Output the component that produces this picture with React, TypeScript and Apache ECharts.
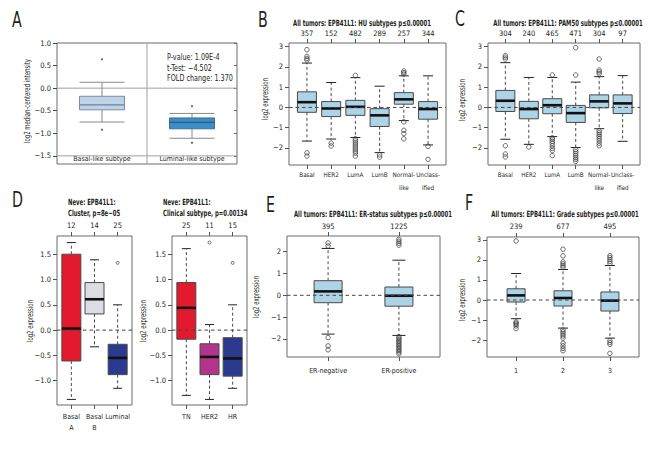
import React, { useEffect, useRef } from 'react';
import * as echarts from 'echarts';

const FONT = '"DejaVu Sans Condensed", "DejaVu Sans", sans-serif';

// ---------- Panel A (Oncomine) ----------
const aCategories = ['Basal-like subtype', 'Luminal-like subtype'];
// [x, lowWhisker, Q1, median, Q3, highWhisker]
const aBoxes = [
  [1, -0.75, -0.48, -0.37, -0.18, 0.13],
  [2, -1.11, -0.90, -0.76, -0.66, -0.56],
];
const aOutliers = [[1, 0.64], [1, -0.92], [2, -0.40], [2, -1.21]];
const aTicks = [1.0, 0.5, 0.0, -0.5, -1.0, -1.5];
const aStats = ['P-value: 1.09E-4', 't-Test: −4.502', 'FOLD change: 1.370'];

// ---------- Panel B (HU subtypes) ----------
const bCategories = ['Basal', 'HER2', 'LumA', 'LumB', 'Normal-\nlike', 'Unclass-\nified'];
const bCounts = ['357', '152', '482', '289', '257', '344'];
const bBoxes = [
  [1, -1.66, -0.24, 0.26, 0.77, 2.19],
  [2, -1.56, -0.45, -0.05, 0.29, 1.23],
  [3, -1.48, -0.39, 0.03, 0.35, 1.47],
  [4, -2.23, -0.94, -0.39, -0.06, 1.05],
  [5, -0.65, 0.16, 0.40, 0.73, 1.56],
  [6, -1.85, -0.58, -0.08, 0.29, 1.56],
];
const bOutliers = [
  [1, 2.85], [1, 2.52], [1, 2.42], [1, 2.34], [1, -2.24], [1, -2.40],
  [2, -1.76], [2, -1.90],
  [3, 1.58], [3, -1.55], [3, -1.65], [3, -1.75], [3, -1.85], [3, -1.95], [3, -2.05], [3, -2.15], [3, -2.25], [3, -2.40],
  [4, -2.34], [4, -2.45],
  [5, 1.80], [5, 1.72], [5, 1.65], [5, -0.71], [5, -1.13], [5, -1.29], [5, -1.55],
  [6, -1.92], [6, -2.56],
];

// ---------- Panel C (PAM50 subtypes) ----------
const cCategories = ['Basal', 'HER2', 'LumA', 'LumB', 'Normal-\nlike', 'Unclass-\nified'];
const cCounts = ['304', '240', '465', '471', '304', '97'];
const cBoxes = [
  [1, -1.57, -0.20, 0.33, 0.84, 2.21],
  [2, -1.82, -0.56, -0.08, 0.30, 1.48],
  [3, -1.44, -0.31, 0.11, 0.43, 1.48],
  [4, -1.98, -0.74, -0.28, 0.10, 1.25],
  [5, -1.05, -0.02, 0.30, 0.62, 1.52],
  [6, -1.67, -0.30, 0.20, 0.62, 1.57],
];
const cOutliers = [
  [1, 2.56], [1, 2.48], [1, 2.39], [1, -1.89], [1, -2.30], [1, -2.44],
  [2, -1.95],
  [3, 1.60], [3, -1.50], [3, -1.57], [3, -1.67], [3, -1.77], [3, -1.89], [3, -2.02], [3, -2.13], [3, -2.38],
  [4, 2.95], [4, 1.60], [4, -2.08], [4, -2.18], [4, -2.28], [4, -2.38], [4, -2.48], [4, -2.56], [4, -2.66],
  [5, 2.39], [5, 1.84], [5, 1.75], [5, 1.66], [5, -1.15], [5, -1.25], [5, -1.34], [5, -1.44], [5, -1.54], [5, -1.64], [5, -1.77], [5, -1.89],
];

// ---------- Panel D (Neve) ----------
const dClusterCategories = ['Basal\nA', 'Basal\nB', 'Luminal'];
const dClusterCounts = ['12', '14', '25'];
const dClusterBoxes = [
  [1, -1.37, -0.61, 0.03, 1.50, 1.73],
  [2, -0.33, 0.32, 0.61, 0.94, 1.39],
  [3, -1.15, -0.88, -0.55, -0.28, 0.50],
];
const dClusterOutliers = [[3, 1.33]];
const dClinicalCategories = ['TN', 'HER2', 'HR'];
const dClinicalCounts = ['25', '11', '15'];
const dClinicalBoxes = [
  [1, -1.29, -0.18, 0.44, 0.94, 1.61],
  [2, -1.37, -0.88, -0.53, -0.27, 0.11],
  [3, -1.15, -0.91, -0.56, -0.15, 0.50],
];
const dClinicalOutliers = [[2, 1.73], [3, 1.33]];
const dTicks = [-1.0, -0.5, 0.0, 0.5, 1.0, 1.5];

// ---------- Panel E (ER status) ----------
const eCategories = ['ER-negative', 'ER-positive'];
const eCounts = ['395', '1225'];
const eBoxes = [
  [1, -1.78, -0.34, 0.18, 0.67, 2.15],
  [2, -1.84, -0.50, -0.02, 0.38, 1.61],
];
const eOutliers = [
  [1, 2.40], [1, 2.26], [1, -1.94], [1, -2.32], [1, -2.50],
  [2, 2.57], [2, 2.48], [2, 2.39], [2, 2.30],
  [2, -1.90], [2, -1.97], [2, -2.04], [2, -2.11], [2, -2.18], [2, -2.25], [2, -2.32], [2, -2.39], [2, -2.46], [2, -2.53], [2, -2.60], [2, -2.68],
];
const eTicks = [-2, -1, 0, 1, 2];

// ---------- Panel F (Grade) ----------
const fCategories = ['1', '2', '3'];
const fCounts = ['239', '677', '495'];
const fBoxes = [
  [1, -0.93, -0.10, 0.23, 0.56, 1.32],
  [2, -1.40, -0.30, 0.10, 0.46, 1.52],
  [3, -1.90, -0.55, -0.03, 0.40, 1.72],
];
const fOutliers = [
  [1, 2.94], [1, -1.09], [1, -1.15], [1, -1.21], [1, -1.29], [1, -1.42],
  [2, 2.53], [2, 2.20], [2, 1.90], [2, 1.80], [2, 1.70], [2, 1.62],
  [2, -1.49], [2, -1.59], [2, -1.69], [2, -1.79], [2, -1.90], [2, -2.15], [2, -2.28], [2, -2.41], [2, -2.53],
  [3, 2.21], [3, 2.12], [3, 2.02], [3, 1.92], [3, 1.82], [3, -2.02], [3, -2.12], [3, -2.21], [3, -2.66],
];
const bcfTicks = [-2, -1, 0, 1, 2, 3];

const fmtInt = (v: number) => (v < 0 ? '−' + Math.abs(v) : String(v));
const fmt1 = (v: number) => (v < -1e-9 ? '−' + Math.abs(v).toFixed(1) : Math.abs(v).toFixed(1));

type BoxCfg = {
  boxW: number; capW: number; fills: string[]; borders: string[]; whisker: string;
  cap: string; dashed: boolean; medians: string[]; medianW: number;
};

function makeBoxRenderer(cfg: BoxCfg) {
  return (params: any, api: any) => {
    const i = params.dataIndex;
    const x = api.value(0);
    const pts = [1, 2, 3, 4, 5].map((k) => api.coord([x, api.value(k)]));
    const cx = pts[0][0];
    const [lo, q1, md, q3, hi] = pts.map((p: number[]) => p[1]);
    const hb = cfg.boxW / 2;
    const hc = cfg.capW / 2;
    const wStyle: any = { stroke: cfg.whisker, lineWidth: 1 };
    if (cfg.dashed) wStyle.lineDash = [3, 2.5];
    return {
      type: 'group',
      children: [
        { type: 'line', shape: { x1: cx, y1: q3, x2: cx, y2: hi }, style: wStyle },
        { type: 'line', shape: { x1: cx, y1: q1, x2: cx, y2: lo }, style: wStyle },
        { type: 'line', shape: { x1: cx - hc, y1: hi, x2: cx + hc, y2: hi }, style: { stroke: cfg.cap, lineWidth: 1 } },
        { type: 'line', shape: { x1: cx - hc, y1: lo, x2: cx + hc, y2: lo }, style: { stroke: cfg.cap, lineWidth: 1 } },
        {
          type: 'rect',
          shape: { x: cx - hb, y: q3, width: cfg.boxW, height: q1 - q3 },
          style: { fill: cfg.fills[i], stroke: cfg.borders[i], lineWidth: 1 },
        },
        { type: 'line', shape: { x1: cx - hb, y1: md, x2: cx + hb, y2: md }, style: { stroke: cfg.medians[i], lineWidth: cfg.medianW } },
      ],
    };
  };
}

type RPanel = {
  grid: { left: number; top: number; width: number; height: number };
  yMin: number; yMax: number; yTicks: number[]; yFmt: (v: number) => string;
  cats: string[]; counts: string[]; boxes: number[][]; outliers: number[][];
  fills: string[]; boxW: number; capW: number; symbolSize: number;
  labelLineHeight: number; labelSize: number; labelMargin: number; countMargin: number;
};

const LIGHT_BLUE = '#add3e6';

const rPanels: RPanel[] = [
  {
    grid: { left: 289, top: 43, width: 157, height: 122 },
    yMin: -2.84, yMax: 3.18, yTicks: bcfTicks, yFmt: fmtInt,
    cats: bCategories, counts: bCounts, boxes: bBoxes, outliers: bOutliers,
    fills: bBoxes.map(() => LIGHT_BLUE), boxW: 19, capW: 10, symbolSize: 4.5,
    labelLineHeight: 13, labelSize: 6.3, labelMargin: 3, countMargin: 6,
  },
  {
    grid: { left: 488, top: 43, width: 152, height: 122 },
    yMin: -2.84, yMax: 3.18, yTicks: bcfTicks, yFmt: fmtInt,
    cats: cCategories, counts: cCounts, boxes: cBoxes, outliers: cOutliers,
    fills: cBoxes.map(() => LIGHT_BLUE), boxW: 19, capW: 10, symbolSize: 4.5,
    labelLineHeight: 13, labelSize: 6.2, labelMargin: 3, countMargin: 6,
  },
  {
    grid: { left: 57, top: 236, width: 75, height: 169 },
    yMin: -1.48, yMax: 1.86, yTicks: dTicks, yFmt: fmt1,
    cats: dClusterCategories, counts: dClusterCounts, boxes: dClusterBoxes, outliers: dClusterOutliers,
    fills: ['#e3192d', '#dcdce3', '#2b3a8f'], boxW: 19, capW: 9, symbolSize: 3,
    labelLineHeight: 10.5, labelSize: 7, labelMargin: 7, countMargin: 7,
  },
  {
    grid: { left: 172, top: 236, width: 75, height: 169 },
    yMin: -1.48, yMax: 1.86, yTicks: dTicks, yFmt: fmt1,
    cats: dClinicalCategories, counts: dClinicalCounts, boxes: dClinicalBoxes, outliers: dClinicalOutliers,
    fills: ['#e3192d', '#b3348b', '#2b3a8f'], boxW: 19, capW: 9, symbolSize: 3,
    labelLineHeight: 10.5, labelSize: 7, labelMargin: 7, countMargin: 7,
  },
  {
    grid: { left: 287, top: 236, width: 153, height: 121 },
    yMin: -2.83, yMax: 2.72, yTicks: eTicks, yFmt: fmtInt,
    cats: eCategories, counts: eCounts, boxes: eBoxes, outliers: eOutliers,
    fills: eBoxes.map(() => LIGHT_BLUE), boxW: 28, capW: 13, symbolSize: 4.5,
    labelLineHeight: 11, labelSize: 7, labelMargin: 8, countMargin: 6,
  },
  {
    grid: { left: 487, top: 237, width: 152, height: 120 },
    yMin: -2.84, yMax: 3.14, yTicks: bcfTicks, yFmt: fmtInt,
    cats: fCategories, counts: fCounts, boxes: fBoxes, outliers: fOutliers,
    fills: fBoxes.map(() => LIGHT_BLUE), boxW: 18, capW: 10, symbolSize: 4.5,
    labelLineHeight: 11, labelSize: 7, labelMargin: 8, countMargin: 7,
  },
];

const TEXT = '#231f20';
const AXIS = '#555';

function buildOption() {
  const grids: any[] = [];
  const xAxes: any[] = [];
  const yAxes: any[] = [];
  const series: any[] = [];
  const fs = 7.5;
  const noHide = { hideOverlap: false };

  // ---- Panel A ----
  grids.push({ left: 57, top: 43, width: 180, height: 121, show: true, borderColor: '#6d6d6d', borderWidth: 1, containLabel: false, outerBoundsMode: 'none' });
  const aX = xAxes.length;
  xAxes.push({
    gridIndex: 0, type: 'value', min: 0.5, max: 2.5, position: 'bottom',
    axisLine: { show: false }, splitLine: { show: false }, axisTick: { show: false },
    axisLabel: {
      inside: true, margin: 1.5, customValues: [1, 2], formatter: (v: number) => aCategories[Math.round(v) - 1],
      fontFamily: FONT, fontSize: 7, color: TEXT, verticalAlign: 'bottom', ...noHide,
    },
  });
  const aY = yAxes.length;
  yAxes.push({
    gridIndex: 0, type: 'value', min: -1.68, max: 1.0, position: 'left',
    axisLine: { show: false }, splitLine: { show: false },
    axisTick: { show: true, length: 4, customValues: aTicks, lineStyle: { color: '#444' } },
    axisLabel: { customValues: aTicks, formatter: fmt1, margin: 6, fontFamily: FONT, fontSize: fs, color: TEXT, ...noHide },
  });
  yAxes.push({
    gridIndex: 0, type: 'value', min: -1.68, max: 1.0, position: 'right',
    axisLine: { show: false }, splitLine: { show: false },
    axisTick: { show: true, inside: true, length: 3, customValues: aTicks, lineStyle: { color: '#666' } },
    axisLabel: { show: false },
  });
  series.push({
    type: 'line', xAxisIndex: aX, yAxisIndex: aY, data: [[0.5, 0], [2.5, 0]], symbol: 'none', silent: true,
    lineStyle: { color: '#a0a0a0', width: 1 }, z: 1,
  });
  series.push({
    type: 'line', xAxisIndex: aX, yAxisIndex: aY, data: [[0.5, -1.5], [2.5, -1.5]], symbol: 'none', silent: true,
    lineStyle: { color: '#a0a0a0', width: 1 }, z: 1,
  });
  series.push({
    type: 'line', xAxisIndex: aX, yAxisIndex: aY, data: [[1.5, -1.68], [1.5, 1.0]], symbol: 'none', silent: true,
    lineStyle: { color: '#a0a0a0', width: 1 }, z: 1,
  });
  series.push({
    type: 'custom', xAxisIndex: aX, yAxisIndex: aY, data: aBoxes, encode: { x: 0, y: [1, 2, 3, 4, 5] }, z: 3, silent: true,
    renderItem: makeBoxRenderer({
      boxW: 45, capW: 45, fills: ['#bdd3e9', '#3a8dc9'], borders: ['#7f8b96', '#3f6f94'], whisker: '#8a8a8a',
      cap: '#8a8a8a', dashed: false, medians: ['#6f8497', '#2f5d80'], medianW: 1.2,
    }),
  });
  series.push({
    type: 'scatter', xAxisIndex: aX, yAxisIndex: aY, data: aOutliers, symbol: 'circle', symbolSize: 2.2, silent: true,
    itemStyle: { color: '#444' }, z: 4,
  });

  // ---- R panels ----
  rPanels.forEach((p) => {
    const gi = grids.length;
    const n = p.cats.length;
    const xMin = 0.5 - 0.04 * n;
    const xMax = n + 0.5 + 0.04 * n;
    const xs = p.cats.map((_, i) => i + 1);
    grids.push({ ...p.grid, show: true, borderColor: '#6a6a6a', borderWidth: 1, containLabel: false, outerBoundsMode: 'none' });
    const xi = xAxes.length;
    // value axis used by the marks (labels and ticks come from the category axis below)
    xAxes.push({
      gridIndex: gi, type: 'value', min: xMin, max: xMax, position: 'bottom', show: true,
      axisLine: { show: false }, splitLine: { show: false }, axisTick: { show: false }, axisLabel: { show: false },
    });
    xAxes.push({
      gridIndex: gi, type: 'value', min: xMin, max: xMax, position: 'top',
      axisLine: { show: false }, splitLine: { show: false },
      axisTick: { show: true, length: 4, customValues: xs, lineStyle: { color: AXIS } },
      axisLabel: {
        customValues: xs, formatter: (v: number) => p.counts[Math.round(v) - 1], margin: p.countMargin,
        fontFamily: FONT, fontSize: fs, color: TEXT, ...noHide,
      },
    });
    const yi = yAxes.length;
    yAxes.push({
      gridIndex: gi, type: 'value', min: p.yMin, max: p.yMax, position: 'left',
      axisLine: { show: false }, splitLine: { show: false },
      axisTick: { show: true, length: 4, customValues: p.yTicks, lineStyle: { color: AXIS } },
      axisLabel: { customValues: p.yTicks, formatter: p.yFmt, margin: 6, fontFamily: FONT, fontSize: fs, color: TEXT, ...noHide },
    });

    // category axis for the bottom labels, in an inset grid whose bands match the value axis positions
    const pxPerUnit = p.grid.width / (xMax - xMin);
    const lgi = grids.length;
    grids.push({
      left: p.grid.left + (0.5 - xMin) * pxPerUnit, top: p.grid.top, width: n * pxPerUnit, height: p.grid.height,
      show: false, containLabel: false, outerBoundsMode: 'none',
    });
    xAxes.push({
      gridIndex: lgi, type: 'category', data: p.cats, boundaryGap: true, position: 'bottom',
      axisLine: { show: false }, splitLine: { show: false },
      axisTick: { show: true, length: 4, alignWithLabel: true, interval: 0, lineStyle: { color: AXIS } },
      axisLabel: {
        interval: 0, margin: p.labelMargin, fontFamily: FONT, fontSize: p.labelSize, color: TEXT,
        lineHeight: p.labelLineHeight, ...noHide,
      },
    });
    yAxes.push({ gridIndex: lgi, type: 'value', min: 0, max: 1, show: false });

    series.push({
      type: 'custom', xAxisIndex: xi, yAxisIndex: yi, data: p.boxes, encode: { x: 0, y: [1, 2, 3, 4, 5] }, z: 2, silent: true,
      renderItem: makeBoxRenderer({
        boxW: p.boxW, capW: p.capW, fills: p.fills, borders: p.fills.map(() => '#4a4a4a'), whisker: '#4a4a4a',
        cap: '#222', dashed: true, medians: p.fills.map(() => '#111'), medianW: 2.6,
      }),
    });
    series.push({
      type: 'scatter', xAxisIndex: xi, yAxisIndex: yi, data: p.outliers, symbol: 'circle', symbolSize: p.symbolSize, silent: true,
      itemStyle: { color: 'rgba(255,255,255,0)', borderColor: '#333', borderWidth: 0.9 }, z: 3,
    });
    series.push({
      type: 'line', xAxisIndex: xi, yAxisIndex: yi, data: [[xMin, 0], [xMax, 0]], symbol: 'none', silent: true,
      lineStyle: { color: '#444', width: 1, type: [3.5, 3] }, z: 4,
    });
  });

  const SX = 0.7;
  const text = (x: number, y: number, t: string, extra: any = {}, sx = SX) => ({
    type: 'text', x, y, scaleX: sx, silent: true,
    style: { text: t, fontFamily: FONT, fontSize: 8.5, fill: TEXT, align: 'center', verticalAlign: 'middle', ...extra },
  });
  const vtext = (x: number, y: number, t: string) => ({
    type: 'text', x, y, rotation: Math.PI / 2, scaleX: SX, silent: true,
    style: { text: t, fontFamily: FONT, fontSize: 8.5, fill: TEXT, align: 'center', verticalAlign: 'middle' },
  });
  const letter = (x: number, y: number, t: string) => ({
    type: 'text', x, y, scaleX: 0.72, silent: true,
    style: { text: t, fontFamily: FONT, fontSize: 22, fill: '#231f20', align: 'left', verticalAlign: 'top' },
  });
  const bold = { fontWeight: 'bold' };

  const graphic = [
    letter(12, 9, 'A'), letter(258, 9, 'B'), letter(455, 8, 'C'),
    letter(12, 189, 'D'), letter(266, 194, 'E'), letter(465, 192, 'F'),
    vtext(27, 101, 'log2 median-centered intensity'),
    text(167, 57, aStats[0], { align: 'left', fontSize: 9 }, 0.8),
    text(167, 67.5, aStats[1], { align: 'left', fontSize: 9 }, 0.8),
    text(167, 78, aStats[2], { align: 'left', fontSize: 9 }, 0.8),
    text(362, 23, 'All tumors: EPB41L1: HU subtypes p≤0.00001', bold),
    text(568, 23, 'All tumors: EPB41L1: PAM50 subtypes p≤0.00001', bold),
    text(373, 214, 'All tumors: EPB41L1: ER-status subtypes p≤0.00001', bold),
    text(565, 214, 'All tumors: EPB41L1: Grade subtypes p≤0.00001', bold),
    text(68, 202, 'Neve: EPB41L1:', { ...bold, align: 'left' }),
    text(68, 213.5, 'Cluster, p=8e−05', { ...bold, align: 'left' }),
    text(163, 202, 'Neve: EPB41L1:', { ...bold, align: 'left' }),
    text(163, 213.5, 'Clinical subtype, p=0.00134', { ...bold, align: 'left' }),
    vtext(265, 99, 'log2 expression'),
    vtext(462, 100, 'log2 expression'),
    vtext(30, 321, 'log2 expression'),
    vtext(143, 321, 'log2 expression'),
    vtext(256, 297, 'log2 expression'),
    vtext(462, 300, 'log2 expression'),
  ];

  return {
    animation: false,
    backgroundColor: '#ffffff',
    grid: grids,
    xAxis: xAxes,
    yAxis: yAxes,
    series,
    graphic,
  };
}

export default function App() {
  const ref = useRef<HTMLDivElement>(null);
  useEffect(() => {
    if (!ref.current) return;
    const chart = echarts.init(ref.current, undefined, { renderer: 'svg' });
    chart.setOption(buildOption() as any);
    return () => chart.dispose();
  }, []);
  return <div ref={ref} style={{ position: 'fixed', left: 0, top: 0, width: 670, height: 450 }} />;
}
